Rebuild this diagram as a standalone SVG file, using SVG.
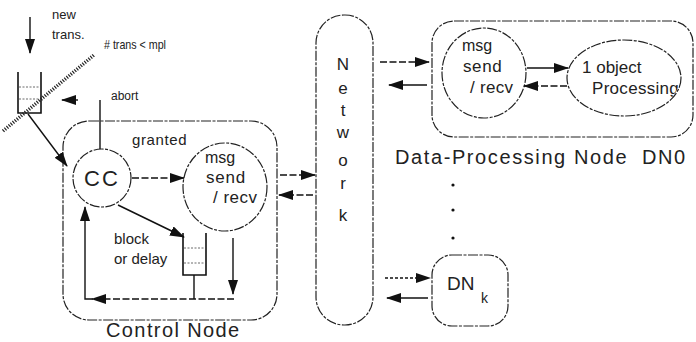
<svg xmlns="http://www.w3.org/2000/svg" width="696" height="342" viewBox="0 0 696 342">
<style>
text{font-family:"Liberation Sans",Arial,sans-serif;fill:#222}
.ln{fill:none;stroke:#111;stroke-width:1.4}
.dsh{stroke-dasharray:7 2.5}
.dot{stroke-dasharray:3 2}
.box{fill:none;stroke:#222;stroke-width:1.2;stroke-dasharray:10 1.5 3 1.5}
.q{fill:none;stroke:#111;stroke-width:1.6}
.qi{fill:none;stroke:#444;stroke-width:0.8;stroke-dasharray:2 1.5}
</style>
<defs>
<marker id="ah" viewBox="0 0 15 10" refX="14" refY="5" markerWidth="15" markerHeight="10" markerUnits="userSpaceOnUse" orient="auto">
<path d="M0,0 L15,5 L0,10 Z" fill="#111"/>
</marker>
<clipPath id="objclip"><ellipse cx="624" cy="78" rx="56" ry="37"/></clipPath>
</defs>

<g id="labels-top">
<text x="52" y="19" font-size="13">new</text>
<text x="52" y="39" font-size="13">trans.</text>
<text x="104" y="49" font-size="13" textLength="62" lengthAdjust="spacingAndGlyphs"># trans &lt; mpl</text>
<text x="111" y="100" font-size="12">abort</text>
</g>

<g id="queue-entry">
<path class="q" d="M18,72 V113 H41 V72"/>
<line class="qi" x1="19" y1="87" x2="40" y2="87"/>
<line class="qi" x1="19" y1="99" x2="40" y2="99"/>
</g>

<g id="barrier">
<line x1="3" y1="131" x2="94" y2="55" stroke="#222" stroke-width="3.5" stroke-dasharray="1.2 1.4"/>
</g>

<g id="control-node">
<rect class="box" x="63" y="121" width="214" height="199" rx="26"/>
<text x="106" y="337" font-size="20" letter-spacing="1.4">Control Node</text>
<text x="132" y="145" font-size="15" letter-spacing="0.6">granted</text>
<text x="114" y="244" font-size="15">block</text>
<text x="114" y="264" font-size="15">or delay</text>
</g>

<g id="cc">
<ellipse class="box" cx="102" cy="178" rx="29" ry="29"/>
<text x="102" y="186" font-size="22" letter-spacing="2" text-anchor="middle">CC</text>
</g>

<g id="msg-control">
<ellipse class="box" cx="225" cy="187" rx="42" ry="44"/>
<text x="205" y="163" font-size="16">msg</text>
<text x="206" y="183" font-size="17" letter-spacing="0.8">send</text>
<text x="213" y="203" font-size="17" letter-spacing="0.5">/ recv</text>
</g>

<g id="queue-block">
<path class="q" d="M183,233 V275 H206 V233"/>
<line class="qi" x1="184" y1="248" x2="205" y2="248"/>
<line class="qi" x1="184" y1="263" x2="205" y2="263"/>
</g>

<g id="network">
<rect class="box" x="316" y="15" width="57" height="310" rx="28"/>
<g font-size="17" text-anchor="middle">
<text x="343" y="70">N</text>
<text x="343" y="94">e</text>
<text x="343" y="116">t</text>
<text x="343" y="138">w</text>
<text x="343" y="166">o</text>
<text x="343" y="189">r</text>
<text x="343" y="221">k</text>
</g>
</g>

<g id="dn0">
<rect class="box" x="432" y="21" width="261" height="116" rx="22"/>
<text x="395" y="164" font-size="20" letter-spacing="1.6">Data-Processing Node</text>
<text x="642" y="164" font-size="20" letter-spacing="1.5">DN0</text>
</g>

<g id="dn0-msg">
<ellipse class="box" cx="484" cy="73" rx="42" ry="45"/>
<text x="462" y="51" font-size="16">msg</text>
<text x="463" y="72" font-size="17" letter-spacing="0.6">send</text>
<text x="470" y="93" font-size="17" letter-spacing="0.3">/ recv</text>
</g>

<g id="object-processing">
<ellipse class="box" cx="624" cy="78" rx="57" ry="38"/>
<text x="582" y="73" font-size="17">1  object</text>
<text x="592" y="94" font-size="17" letter-spacing="0.3" clip-path="url(#objclip)">Processing</text>
</g>

<g id="dnk">
<rect class="box" x="432" y="255" width="76" height="71" rx="20"/>
<text x="447" y="290" font-size="19">DN</text>
<text x="481" y="303" font-size="14">k</text>
</g>

<g id="ellipsis">
<circle cx="453" cy="185" r="1.6" fill="#111"/>
<circle cx="453" cy="210" r="1.6" fill="#111"/>
<circle cx="453" cy="238" r="1.6" fill="#111"/>
</g>

<g id="connectors">
<line class="ln" x1="30" y1="17" x2="30" y2="53" marker-end="url(#ah)"/>
<line class="ln" x1="28" y1="114" x2="67" y2="166" marker-end="url(#ah)"/>
<line class="ln" x1="100" y1="100" x2="100" y2="149"/>
<line class="ln" x1="78" y1="100" x2="62" y2="100" marker-end="url(#ah)"/>
<line class="ln dsh" x1="132" y1="178" x2="184" y2="178" marker-end="url(#ah)"/>
<line class="ln" x1="118" y1="205" x2="184" y2="237" marker-end="url(#ah)"/>
<line class="ln" x1="194" y1="275" x2="194" y2="299"/>
<line class="ln" x1="233" y1="238" x2="233" y2="294" marker-end="url(#ah)"/>
<line class="ln dsh" x1="234" y1="299" x2="92" y2="299" marker-end="url(#ah)"/>
<polyline class="ln" points="93,299 85,299 85,207" marker-end="url(#ah)"/>
<line class="ln dsh" x1="280" y1="175" x2="315" y2="175" marker-end="url(#ah)"/>
<line class="ln dsh" x1="313" y1="195" x2="279" y2="195" marker-end="url(#ah)"/>
<line class="ln dsh" x1="380" y1="62" x2="429" y2="62" marker-end="url(#ah)"/>
<line class="ln" x1="427" y1="85" x2="389" y2="85" marker-end="url(#ah)"/>
<line class="ln" x1="527" y1="68" x2="568" y2="68" marker-end="url(#ah)"/>
<line class="ln dsh" x1="567" y1="86" x2="524" y2="86" marker-end="url(#ah)"/>
<line class="ln dot" x1="385" y1="278" x2="430" y2="278" marker-end="url(#ah)"/>
<line class="ln" x1="428" y1="298" x2="387" y2="298" marker-end="url(#ah)"/>
</g>
</svg>
